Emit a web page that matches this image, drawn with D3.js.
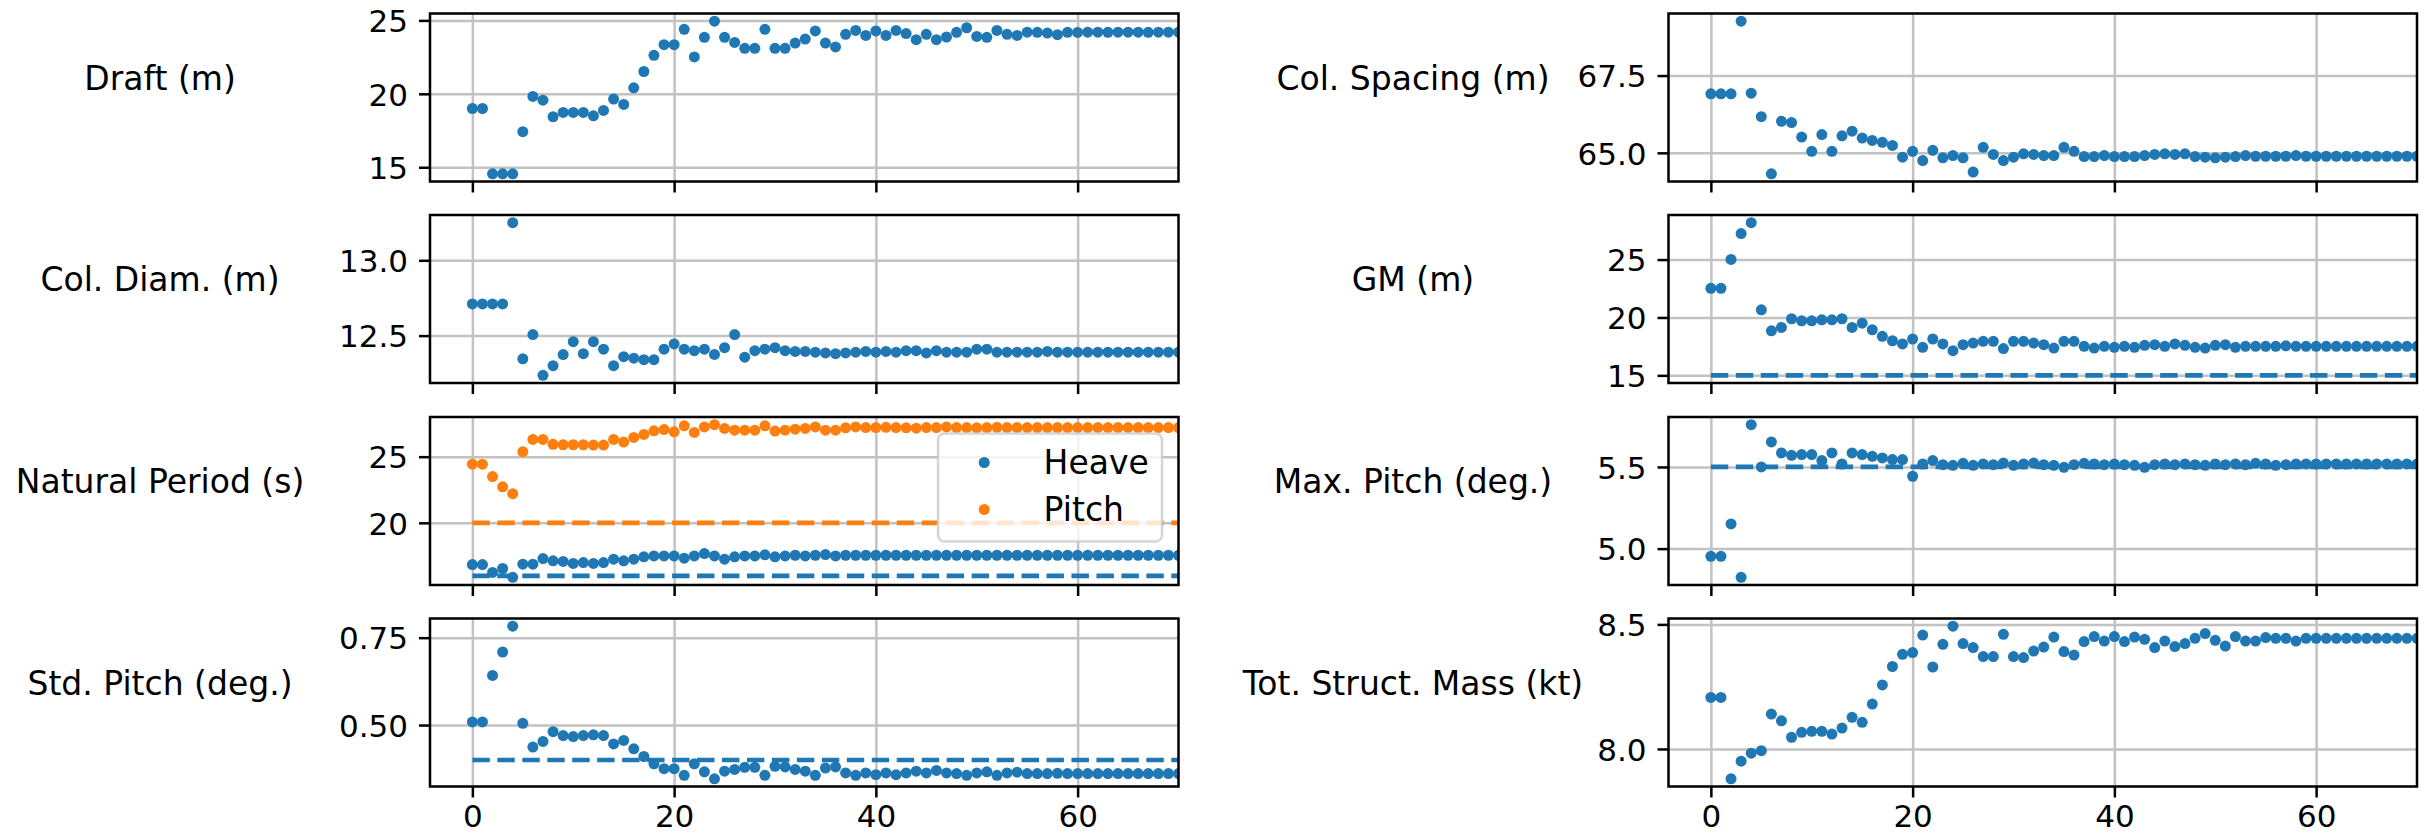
<!DOCTYPE html>
<html>
<head>
<meta charset="utf-8">
<script src="https://cdn.jsdelivr.net/npm/d3@7"></script>
<style>
  html, body { margin: 0; padding: 0; background: #ffffff; }
  svg { display: block; font-family: "DejaVu Sans", sans-serif; }
</style>
</head>
<body>
<svg id="chart" width="2433" height="836"></svg>
<script>
// ---- Optimisation history (one value per iteration, starting at 0) ----
const draft = [19.0, 19.0, 14.55, 14.55, 14.55, 17.42, 19.82, 19.57, 18.44, 18.73,
  18.73, 18.73, 18.5, 18.87, 19.64, 19.28, 20.41, 21.52, 22.62, 23.35,
  23.35, 24.39, 22.51, 23.85, 24.95, 23.85, 23.5, 23.1, 23.1, 24.39,
  23.1, 23.1, 23.46, 23.73, 24.28, 23.46, 23.19, 24.05, 24.32, 23.98,
  24.28, 23.98, 24.32, 24.1, 23.69, 24.05, 23.69, 23.87, 24.19, 24.5,
  23.91, 23.85, 24.32, 24.05, 23.98, 24.2, 24.19, 24.14, 24.03, 24.19,
  24.18, 24.2, 24.2, 24.19, 24.2, 24.2, 24.2, 24.19, 24.2, 24.2, 24.2];

const colDiam = [12.71, 12.71, 12.71, 12.71, 13.25, 12.346, 12.507, 12.236, 12.30, 12.374,
  12.46, 12.38, 12.46, 12.41, 12.30, 12.36, 12.35, 12.34, 12.34, 12.41,
  12.445, 12.41, 12.40, 12.41, 12.375, 12.42, 12.507, 12.357, 12.40, 12.41,
  12.42, 12.40, 12.395, 12.395, 12.39, 12.385, 12.38, 12.385, 12.39, 12.395,
  12.39, 12.395, 12.39, 12.40, 12.40, 12.385, 12.40, 12.39, 12.39, 12.39,
  12.41, 12.41, 12.39, 12.39, 12.39, 12.39, 12.39, 12.395, 12.39, 12.39,
  12.39, 12.39, 12.39, 12.39, 12.39, 12.39, 12.39, 12.39, 12.39, 12.39, 12.39];

const heavePeriod = [16.85, 16.85, 16.25, 16.55, 15.88, 16.88, 16.88, 17.3, 17.13, 17.08,
  16.93, 17.0, 16.93, 17.0, 17.25, 17.13, 17.25, 17.43, 17.5, 17.5,
  17.5, 17.33, 17.5, 17.68, 17.5, 17.25, 17.43, 17.5, 17.5, 17.58,
  17.43, 17.5, 17.55, 17.5, 17.55, 17.6, 17.5, 17.55, 17.55, 17.55,
  17.55, 17.55, 17.55, 17.55, 17.55, 17.55, 17.55, 17.55, 17.55, 17.55,
  17.55, 17.55, 17.55, 17.55, 17.55, 17.55, 17.55, 17.55, 17.55, 17.55,
  17.55, 17.55, 17.55, 17.55, 17.55, 17.55, 17.55, 17.55, 17.55, 17.55, 17.55];

const pitchPeriod = [24.43, 24.43, 23.5, 22.72, 22.2, 25.38, 26.3, 26.3, 25.93, 25.9,
  25.9, 25.9, 25.88, 25.88, 26.3, 26.1, 26.45, 26.68, 26.95, 27.05,
  26.88, 27.33, 26.83, 27.25, 27.42, 27.13, 27.0, 27.0, 27.0, 27.33,
  26.93, 27.0, 27.08, 27.13, 27.25, 27.0, 27.0, 27.18, 27.25, 27.2,
  27.2, 27.22, 27.2, 27.18, 27.15, 27.2, 27.2, 27.25, 27.2, 27.2,
  27.18, 27.2, 27.22, 27.2, 27.2, 27.2, 27.2, 27.2, 27.2, 27.2,
  27.2, 27.2, 27.2, 27.2, 27.2, 27.2, 27.2, 27.2, 27.2, 27.2, 27.2];

const stdPitch = [0.509, 0.509, 0.642, 0.709, 0.783, 0.505, 0.437, 0.453, 0.481, 0.47,
  0.467, 0.47, 0.472, 0.47, 0.446, 0.456, 0.432, 0.41, 0.389, 0.375,
  0.375, 0.356, 0.389, 0.366, 0.346, 0.368, 0.373, 0.379, 0.379, 0.356,
  0.382, 0.38, 0.373, 0.368, 0.356, 0.377, 0.38, 0.363, 0.356, 0.363,
  0.358, 0.363, 0.358, 0.363, 0.368, 0.363, 0.37, 0.363, 0.361, 0.356,
  0.363, 0.366, 0.356, 0.363, 0.365, 0.361, 0.361, 0.361, 0.362, 0.361,
  0.361, 0.361, 0.361, 0.361, 0.361, 0.361, 0.361, 0.361, 0.361, 0.361, 0.361];

const colSpacing = [66.91, 66.91, 66.91, 69.26, 66.93, 66.17, 64.32, 66.02, 65.98, 65.51,
  65.05, 65.59, 65.05, 65.55, 65.70, 65.48, 65.40, 65.34, 65.24, 64.86,
  65.05, 64.75, 65.08, 64.84, 64.91, 64.84, 64.38, 65.18, 64.95, 64.75,
  64.86, 64.97, 64.95, 64.91, 64.91, 65.18, 65.05, 64.88, 64.88, 64.91,
  64.88, 64.88, 64.88, 64.91, 64.95, 64.97, 64.95, 64.97, 64.88, 64.86,
  64.84, 64.86, 64.88, 64.91, 64.89, 64.89, 64.89, 64.89, 64.91, 64.89,
  64.89, 64.89, 64.89, 64.89, 64.89, 64.89, 64.89, 64.89, 64.89, 64.89, 64.89];

const gm = [22.52, 22.52, 25.01, 27.25, 28.19, 20.66, 18.85, 19.14, 19.89, 19.71,
  19.71, 19.8, 19.8, 19.89, 19.14, 19.51, 18.94, 18.37, 17.99, 17.71,
  18.14, 17.42, 18.14, 17.71, 17.13, 17.65, 17.79, 17.94, 17.94, 17.31,
  17.94, 17.94, 17.79, 17.65, 17.36, 17.94, 17.94, 17.51, 17.36, 17.51,
  17.42, 17.51, 17.42, 17.59, 17.65, 17.51, 17.71, 17.59, 17.42, 17.36,
  17.59, 17.65, 17.42, 17.51, 17.51, 17.51, 17.51, 17.55, 17.51, 17.51,
  17.51, 17.51, 17.51, 17.51, 17.51, 17.51, 17.51, 17.51, 17.51, 17.51, 17.51];

const maxPitch = [4.953, 4.953, 5.151, 4.824, 5.759, 5.5, 5.653, 5.586, 5.571, 5.576,
  5.576, 5.539, 5.586, 5.518, 5.586, 5.576, 5.565, 5.555, 5.545, 5.545,
  5.443, 5.518, 5.539, 5.514, 5.51, 5.522, 5.51, 5.518, 5.514, 5.524,
  5.51, 5.518, 5.524, 5.514, 5.51, 5.498, 5.514, 5.522, 5.518, 5.514,
  5.518, 5.514, 5.51, 5.498, 5.514, 5.518, 5.514, 5.518, 5.514, 5.51,
  5.518, 5.514, 5.518, 5.514, 5.522, 5.518, 5.51, 5.514, 5.518, 5.518,
  5.518, 5.518, 5.518, 5.518, 5.518, 5.518, 5.518, 5.518, 5.518, 5.518, 5.518];

const structMass = [8.207, 8.207, 7.88, 7.951, 7.983, 7.993, 8.14, 8.113, 8.047, 8.067,
  8.071, 8.071, 8.06, 8.084, 8.127, 8.107, 8.18, 8.257, 8.331, 8.38,
  8.387, 8.457, 8.329, 8.42, 8.493, 8.423, 8.407, 8.371, 8.371, 8.46,
  8.371, 8.367, 8.393, 8.409, 8.449, 8.391, 8.377, 8.431, 8.451, 8.433,
  8.451, 8.431, 8.449, 8.44, 8.407, 8.433, 8.411, 8.423, 8.444, 8.463,
  8.436, 8.413, 8.451, 8.433, 8.433, 8.447, 8.444, 8.444, 8.433, 8.444,
  8.444, 8.444, 8.444, 8.444, 8.444, 8.444, 8.444, 8.444, 8.444, 8.444, 8.444];

// ---- Constraint levels (dashed lines) ----
const heaveLimit = 16;
const pitchLimit = 20;
const stdPitchLimit = 0.4;
const gmLimit = 15;
const maxPitchLimit = 5.5;

// ---- Axis labels and ticks ----
const panelLabels = ["Draft (m)", "Col. Diam. (m)", "Natural Period (s)", "Std. Pitch (deg.)",
  "Col. Spacing (m)", "GM (m)", "Max. Pitch (deg.)", "Tot. Struct. Mass (kt)"];
const legendNames = ["Heave", "Pitch"];
const xTicks = [0, 20, 40, 60];
const xTickLabels = ["0", "20", "40", "60"];
const draftTicks = [15, 20, 25];           const draftTickLabels = ["15", "20", "25"];
const colDiamTicks = [12.5, 13.0];         const colDiamTickLabels = ["12.5", "13.0"];
const periodTicks = [20, 25];              const periodTickLabels = ["20", "25"];
const stdPitchTicks = [0.5, 0.75];         const stdPitchTickLabels = ["0.50", "0.75"];
const colSpacingTicks = [65.0, 67.5];      const colSpacingTickLabels = ["65.0", "67.5"];
const gmTicks = [15, 20, 25];              const gmTickLabels = ["15", "20", "25"];
const maxPitchTicks = [5.0, 5.5];          const maxPitchTickLabels = ["5.0", "5.5"];
const massTicks = [8.0, 8.5];              const massTickLabels = ["8.0", "8.5"];

// ---- Styling and layout ----
const C0 = "#1f77b4", C1 = "#ff7f0e";
const TICK_FONT = 31;
const LABEL_FONT = 33;
const PT = 3.14;              // pixels per point
const colX = [430, 1668.5];
const rowY = [13.5, 215, 417, 618.5];
const plotW = 748.5, plotH = 168;
const xDomain = [-4.2, 70];
const lastIter = 84;          // constraint lines run across the whole run
const labelCentre = [160, 1413];
const dotR = 5.5;

const panels = [
  { col: 0, row: 0, label: panelLabels[0], ticks: draftTicks, tickLabels: draftTickLabels,
    series: [{ values: draft, color: C0 }], limits: [] },
  { col: 0, row: 1, label: panelLabels[1], ticks: colDiamTicks, tickLabels: colDiamTickLabels,
    series: [{ values: colDiam, color: C0 }], limits: [] },
  { col: 0, row: 2, label: panelLabels[2], ticks: periodTicks, tickLabels: periodTickLabels,
    series: [{ values: heavePeriod, color: C0, name: legendNames[0] },
             { values: pitchPeriod, color: C1, name: legendNames[1] }],
    limits: [{ value: heaveLimit, color: C0 }, { value: pitchLimit, color: C1 }], legend: true },
  { col: 0, row: 3, label: panelLabels[3], ticks: stdPitchTicks, tickLabels: stdPitchTickLabels,
    series: [{ values: stdPitch, color: C0 }], limits: [{ value: stdPitchLimit, color: C0 }] },
  { col: 1, row: 0, label: panelLabels[4], ticks: colSpacingTicks, tickLabels: colSpacingTickLabels,
    series: [{ values: colSpacing, color: C0 }], limits: [] },
  { col: 1, row: 1, label: panelLabels[5], ticks: gmTicks, tickLabels: gmTickLabels,
    series: [{ values: gm, color: C0 }], limits: [{ value: gmLimit, color: C0 }] },
  { col: 1, row: 2, label: panelLabels[6], ticks: maxPitchTicks, tickLabels: maxPitchTickLabels,
    series: [{ values: maxPitch, color: C0 }], limits: [{ value: maxPitchLimit, color: C0 }] },
  { col: 1, row: 3, label: panelLabels[7], ticks: massTicks, tickLabels: massTickLabels,
    series: [{ values: structMass, color: C0 }], limits: [] }
];

const svg = d3.select("#chart");
svg.append("rect").attr("width", 2433).attr("height", 836).attr("fill", "#ffffff");
const defs = svg.append("defs");

panels.forEach((p, k) => {
  const g = svg.append("g").attr("transform", `translate(${colX[p.col]},${rowY[p.row]})`);

  // y-range: all plotted values plus constraint lines, with a 5 % margin
  const all = p.series.flatMap(s => s.values).concat(p.limits.map(l => l.value));
  const [lo, hi] = d3.extent(all);
  const pad = (hi - lo) * 0.05;
  const x = d3.scaleLinear().domain(xDomain).range([0, plotW]);
  const y = d3.scaleLinear().domain([lo - pad, hi + pad]).range([plotH, 0]);

  const clipId = "clip" + k;
  defs.append("clipPath").attr("id", clipId)
    .append("rect").attr("width", plotW).attr("height", plotH);

  // grid
  const grid = g.append("g").attr("class", "grid");
  grid.append("g").call(d3.axisBottom(x).tickValues(xTicks).tickSize(plotH).tickFormat(""))
    .call(a => a.select(".domain").remove());
  grid.append("g").call(d3.axisLeft(y).tickValues(p.ticks).tickSize(-plotW).tickFormat(""))
    .call(a => a.select(".domain").remove());
  grid.selectAll("line").attr("stroke", "#c2c2c2").attr("stroke-width", 0.8 * PT);

  // data
  const plot = g.append("g").attr("clip-path", `url(#${clipId})`);
  p.series.forEach(s => {
    plot.append("g").selectAll("circle").data(s.values).join("circle")
      .attr("cx", (d, i) => x(i))
      .attr("cy", d => y(d))
      .attr("r", dotR)
      .attr("fill", s.color);
  });
  p.limits.forEach(l => {
    plot.append("line")
      .attr("x1", x(0)).attr("x2", x(lastIter))
      .attr("y1", y(l.value)).attr("y2", y(l.value))
      .attr("stroke", l.color)
      .attr("stroke-width", 1.5 * PT)
      .attr("stroke-dasharray", `${3.7 * 1.5 * PT} ${1.6 * 1.5 * PT}`);
  });

  // axes
  const yAxis = g.append("g").call(
    d3.axisLeft(y).tickValues(p.ticks).tickSize(3.5 * PT).tickPadding(3.5 * PT)
      .tickFormat((d, i) => p.tickLabels[i]));
  const isBottom = p.row === 3;
  const xAxis = g.append("g").attr("transform", `translate(0,${plotH})`).call(
    d3.axisBottom(x).tickValues(xTicks).tickSize(3.5 * PT).tickPadding(3.5 * PT)
      .tickFormat((d, i) => isBottom ? xTickLabels[i] : ""));
  [yAxis, xAxis].forEach(a => {
    a.select(".domain").remove();
    a.selectAll("line").attr("stroke", "#000").attr("stroke-width", 0.8 * PT);
    a.selectAll("text").attr("fill", "#000").attr("font-size", TICK_FONT)
      .attr("font-family", "DejaVu Sans");
  });
  yAxis.selectAll("text").attr("dy", "0.36em");
  xAxis.selectAll("text").attr("dy", "0.6em");

  // spines
  g.append("rect").attr("width", plotW).attr("height", plotH)
    .attr("fill", "none").attr("stroke", "#000").attr("stroke-width", 0.8 * PT);

  // horizontal label, bottom edge at the panel's vertical centre
  g.append("text")
    .attr("x", labelCentre[p.col] - colX[p.col]).attr("y", plotH / 2 - 0.236 * LABEL_FONT)
    .attr("text-anchor", "middle")
    .attr("font-size", LABEL_FONT).attr("fill", "#000")
    .text(p.label);

  // legend
  if (p.legend) {
    const F = LABEL_FONT;
    const named = p.series.filter(s => s.name);
    const bp = 0.4 * F, hl = 2 * F, htp = 0.8 * F, rowH = 47;
    const lg = g.append("g");
    const box = lg.append("rect");
    const items = lg.selectAll("g.item").data(named).join("g").attr("class", "item");
    const texts = items.append("text")
      .attr("font-size", F).attr("fill", "#000")
      .text(s => s.name);
    let tw = 0;
    texts.each(function () { tw = Math.max(tw, this.getComputedTextLength()); });
    const lw = bp + hl + htp + tw + bp;
    const lh = 108;
    const lx = plotW - 0.5 * F - lw, ly = 0.5 * F;
    box.attr("x", lx).attr("y", ly).attr("width", lw).attr("height", lh)
      .attr("rx", 0.2 * F).attr("fill", "#ffffff").attr("fill-opacity", 0.8)
      .attr("stroke", "#cccccc").attr("stroke-opacity", 0.8).attr("stroke-width", 0.8 * PT);
    items.attr("transform", (s, i) => `translate(${lx + bp},${ly + 29 + i * rowH})`);
    items.append("circle").attr("cx", hl / 2).attr("cy", 0).attr("r", dotR)
      .attr("fill", s => s.color);
    texts.attr("x", hl + htp).attr("y", 0).attr("dy", "0.36em");
  }
});
</script>
</body>
</html>
